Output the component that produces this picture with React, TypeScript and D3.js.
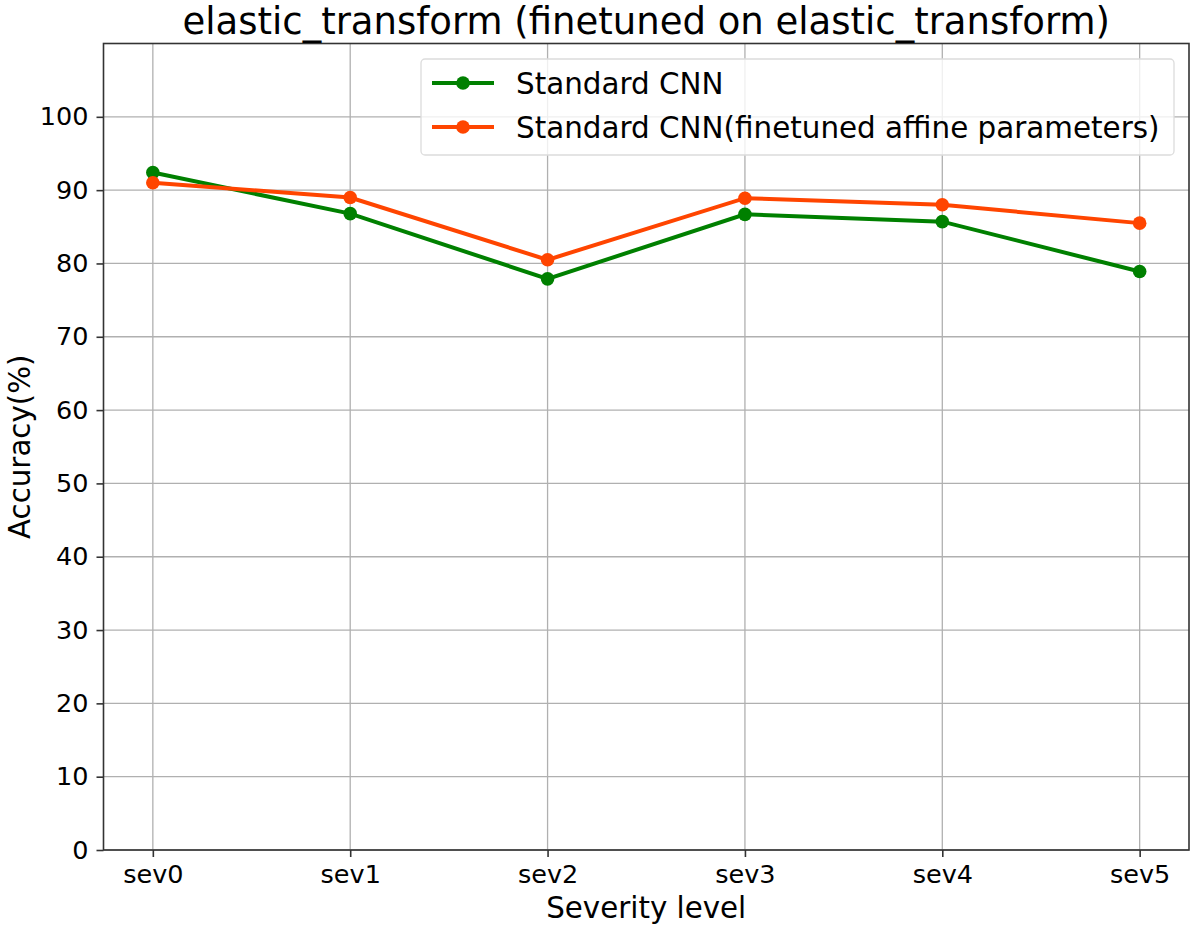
import React, { useEffect, useRef } from 'react';
import * as d3 from 'd3';

const categories = ['sev0', 'sev1', 'sev2', 'sev3', 'sev4', 'sev5'];
const standardCnn = [92.4, 86.8, 77.9, 86.7, 85.7, 78.9];
const finetunedCnn = [91.0, 89.0, 80.5, 88.9, 88.0, 85.5];
const yTicks = [0, 10, 20, 30, 40, 50, 60, 70, 80, 90, 100];

const series = [
    { name: 'Standard CNN', values: standardCnn, color: '#008000' },
    { name: 'Standard CNN(finetuned affine parameters)', values: finetunedCnn, color: '#ff4500' },
];

const App = () => {
    const chartRef = useRef<SVGSVGElement>(null);

    useEffect(() => {
        const svg = d3.select(chartRef.current);
        svg.selectAll('*').remove();

        const left = 103.5, right = 1189, top = 43.5, bottom = 850;
        const font = 'DejaVu Sans, sans-serif';

        const x = d3.scaleLinear().domain([-0.25, 5.25]).range([left, right]);
        const y = d3.scaleLinear().domain([0, 110]).range([bottom, top]);

        // grid
        svg.append('g')
            .selectAll('line.gx')
            .data(categories)
            .enter()
            .append('line')
            .attr('x1', (d, i) => x(i)).attr('x2', (d, i) => x(i))
            .attr('y1', top).attr('y2', bottom)
            .attr('stroke', '#b0b0b0').attr('stroke-width', 1.3);
        svg.append('g')
            .selectAll('line.gy')
            .data(yTicks)
            .enter()
            .append('line')
            .attr('x1', left).attr('x2', right)
            .attr('y1', d => y(d)).attr('y2', d => y(d))
            .attr('stroke', '#b0b0b0').attr('stroke-width', 1.3);

        // axes
        const xAxis = svg.append('g')
            .attr('transform', `translate(0,${bottom})`)
            .call(d3.axisBottom(x).tickValues(d3.range(categories.length)).tickFormat((d) => categories[d as number]).tickSize(7).tickPadding(8));
        const yAxis = svg.append('g')
            .attr('transform', `translate(${left},0)`)
            .call(d3.axisLeft(y).tickValues(yTicks).tickSize(7).tickPadding(8));
        [xAxis, yAxis].forEach(a => {
            a.select('.domain').remove();
            a.selectAll('line').attr('stroke', '#333').attr('stroke-width', 1.6);
            a.selectAll('text').attr('font-family', font).attr('font-size', 25.5).attr('fill', '#000');
        });

        svg.append('rect')
            .attr('x', left).attr('y', top)
            .attr('width', right - left).attr('height', bottom - top)
            .attr('fill', 'none').attr('stroke', '#333').attr('stroke-width', 1.6);

        // lines
        const line = d3.line<number>().x((d, i) => x(i)).y(d => y(d));
        series.forEach(s => {
            svg.append('path')
                .datum(s.values)
                .attr('d', line)
                .attr('fill', 'none')
                .attr('stroke', s.color)
                .attr('stroke-width', 4);
            svg.append('g')
                .selectAll('circle')
                .data(s.values)
                .enter()
                .append('circle')
                .attr('cx', (d, i) => x(i))
                .attr('cy', d => y(d))
                .attr('r', 6.8)
                .attr('fill', s.color);
        });

        // legend
        const lg = svg.append('g').attr('transform', 'translate(421,59)');
        lg.append('rect')
            .attr('width', 753).attr('height', 96).attr('rx', 4)
            .attr('fill', 'rgba(255,255,255,0.8)')
            .attr('stroke', '#dcdcdc').attr('stroke-width', 1.3);
        series.forEach((s, i) => {
            const yy = 24 + i * 44;
            lg.append('line')
                .attr('x1', 11).attr('x2', 73).attr('y1', yy).attr('y2', yy)
                .attr('stroke', s.color).attr('stroke-width', 4);
            lg.append('circle').attr('cx', 42).attr('cy', yy).attr('r', 6.8).attr('fill', s.color);
            lg.append('text')
                .attr('x', 95).attr('y', yy)
                .attr('dy', '0.36em')
                .attr('font-family', font).attr('font-size', 29.4)
                .text(s.name);
        });

        // titles
        svg.append('text')
            .attr('x', (left + right) / 2).attr('y', 34)
            .attr('text-anchor', 'middle')
            .attr('font-family', font).attr('font-size', 37)
            .text('elastic_transform (finetuned on elastic_transform)');
        svg.append('text')
            .attr('x', (left + right) / 2).attr('y', 918)
            .attr('text-anchor', 'middle')
            .attr('font-family', font).attr('font-size', 29.3)
            .text('Severity level');
        svg.append('text')
            .attr('transform', `translate(30,${(top + bottom) / 2}) rotate(-90)`)
            .attr('text-anchor', 'middle')
            .attr('font-family', font).attr('font-size', 29.3)
            .text('Accuracy(%)');
    }, []);

    return (
        <svg ref={chartRef} width={1195} height={930} style={{ position: 'absolute', left: 0, top: 0, background: '#fff' }} />
    );
};

export default App;
